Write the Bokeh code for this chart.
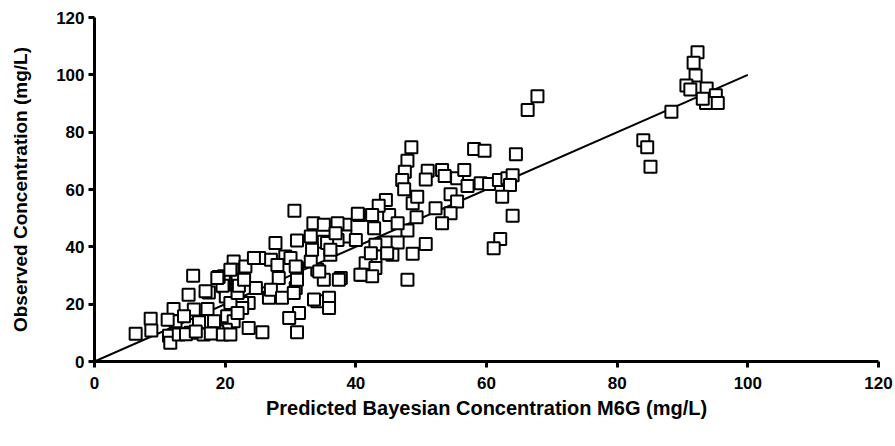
from bokeh.plotting import figure
from bokeh.models import Range1d, FixedTicker
from bokeh.embed import file_html
from bokeh.resources import INLINE

# Predicted (x) vs observed (y) concentrations, mg/L
pred_x = [92.3, 91.7, 92.0, 90.6, 91.2, 93.7, 95.1, 93.6, 95.4, 93.1, 88.3, 84.0, 84.6, 85.1,
          67.8, 66.3, 58.1, 59.7, 64.5, 59.1, 60.4, 61.9, 63.2, 64.0, 63.6, 62.4, 64.0, 62.1, 61.1,
          48.5, 47.9, 47.5, 47.1, 47.4, 51.0, 50.7, 53.2, 53.6, 55.5, 56.6, 57.1, 54.5, 55.5, 52.2,
          54.5, 53.2, 48.7, 49.4, 49.3, 47.9, 50.7, 48.7, 47.9, 44.6, 45.1, 43.5, 42.5, 40.5, 38.4,
          42.8, 46.4, 44.6, 43.0, 46.4, 45.6, 43.0, 41.5, 43.0, 41.0, 42.5, 37.7, 38.4,
          30.6, 33.5, 35.1, 40.3, 33.1, 31.0, 27.7, 35.1, 37.2, 36.1, 27.0, 21.3, 21.1, 23.1, 25.2,
          29.2, 31.0, 34.1, 33.1, 37.4, 40.7, 28.2, 30.8, 24.7, 21.6, 19.8, 26.7, 23.6, 34.1, 35.9,
          35.9, 31.3, 29.8, 31.0, 25.7,
          20.3, 21.3, 23.6, 20.1, 22.6, 22.6, 19.8, 21.9, 20.1,
          15.1, 8.6, 6.3, 8.7, 11.4, 11.6, 12.4, 12.1, 11.2, 14.4, 15.2, 17.5, 17.3, 16.0, 16.7,
          18.8, 19.6, 19.0, 20.8, 20.8, 21.9, 14.7, 13.7, 18.3, 12.9, 19.6, 20.8, 21.9,
          35.6, 24.4, 18.8, 17.0, 22.1, 27.0, 28.7, 33.6, 36.1, 37.2, 33.3, 30.0, 28.0, 22.9,
          42.3, 44.8, 35.1, 34.4, 36.9, 40.0, 30.8, 31.0, 30.5, 14.0, 17.8, 15.5]
obs_y = [107.9, 104.2, 99.8, 96.3, 94.9, 95.2, 92.9, 90.2, 90.2, 91.7, 87.1, 77.2, 74.7, 67.9,
         92.5, 87.7, 74.1, 73.5, 72.3, 62.2, 61.9, 63.3, 63.9, 65.0, 61.6, 57.5, 50.8, 42.7, 39.5,
         74.7, 70.0, 66.2, 63.3, 60.1, 66.5, 63.5, 66.8, 64.7, 63.9, 66.8, 61.2, 58.3, 55.8, 53.5,
         51.7, 48.2, 55.2, 57.5, 50.3, 45.7, 41.0, 37.6, 28.5, 56.3, 51.1, 54.3, 51.1, 51.1, 47.7,
         46.5, 48.2, 41.5, 40.7, 41.5, 37.2, 36.6, 34.3, 32.6, 30.3, 29.7, 29.1, 43.6,
         52.6, 48.2, 47.7, 51.5, 43.6, 42.2, 41.3, 41.8, 42.4, 37.2, 35.5, 34.9, 32.0, 33.1, 36.1,
         36.6, 32.6, 32.0, 34.9, 28.5, 30.3, 29.1, 25.6, 25.6, 25.0, 26.2, 22.2, 20.4, 21.0, 22.2,
         18.7, 16.9, 15.2, 10.2, 10.2,
         15.8, 14.0, 11.7, 11.1, 20.4, 18.7, 29.7, 28.5, 22.7,
         29.9, 14.9, 9.7, 10.8, 9.0, 6.5, 14.0, 18.3, 14.6, 23.3, 18.1, 24.1, 18.3, 13.7, 9.4,
         10.5, 26.4, 29.5, 32.0, 20.4, 23.9, 10.0, 15.8, 14.0, 9.4, 9.4, 9.4, 16.9,
         41.3, 36.1, 29.1, 24.5, 26.4, 25.0, 22.2, 21.6, 39.0, 48.2, 39.0, 36.1, 33.7, 28.5,
         37.8, 37.8, 28.5, 31.4, 44.7, 42.4, 33.1, 28.5, 23.9, 9.5, 9.8, 10.5]

# Line of identity
line_x = [0, 100]
line_y = [0, 100]

ticks = [0, 20, 40, 60, 80, 100, 120]

p = figure(width=895, height=446, output_backend="svg", toolbar_location=None,
           x_range=Range1d(0, 120), y_range=Range1d(0, 120),
           min_border_left=94, min_border_right=17, min_border_top=17, min_border_bottom=84)
p.frame_width = 784
p.frame_height = 344

p.line(line_x, line_y, line_color="black", line_width=2)
p.scatter(pred_x, obs_y, marker="square", size=12, fill_color="white",
          line_color="black", line_width=2)

p.xgrid.visible = False
p.ygrid.visible = False
p.outline_line_color = None
p.background_fill_color = "white"
p.border_fill_color = "white"

for ax in (p.xaxis[0], p.yaxis[0]):
    ax.ticker = FixedTicker(ticks=ticks)
    ax.axis_line_width = 3
    ax.axis_line_color = "black"
    ax.major_tick_line_width = 3
    ax.major_tick_line_color = "black"
    ax.major_tick_out = 6
    ax.major_tick_in = 0
    ax.minor_tick_out = 0
    ax.minor_tick_in = 0
    ax.major_label_text_font = "Liberation Sans"
    ax.major_label_text_font_style = "bold"
    ax.major_label_text_font_size = "17px"
    ax.major_label_text_color = "black"
    ax.axis_label_text_font = "Liberation Sans"
    ax.axis_label_text_font_style = "bold"
    ax.axis_label_text_color = "black"

p.xaxis.axis_label = "Predicted Bayesian Concentration M6G (mg/L)"
p.yaxis.axis_label = "Observed Concentration (mg/L)"
p.xaxis.axis_label_text_font_size = "20px"
p.yaxis.axis_label_text_font_size = "19px"
p.xaxis.major_label_standoff = 9
p.xaxis.axis_label_standoff = 5
p.yaxis.major_label_standoff = 4
p.yaxis.axis_label_standoff = 22

open("out.html", "w").write(file_html(p, INLINE))
